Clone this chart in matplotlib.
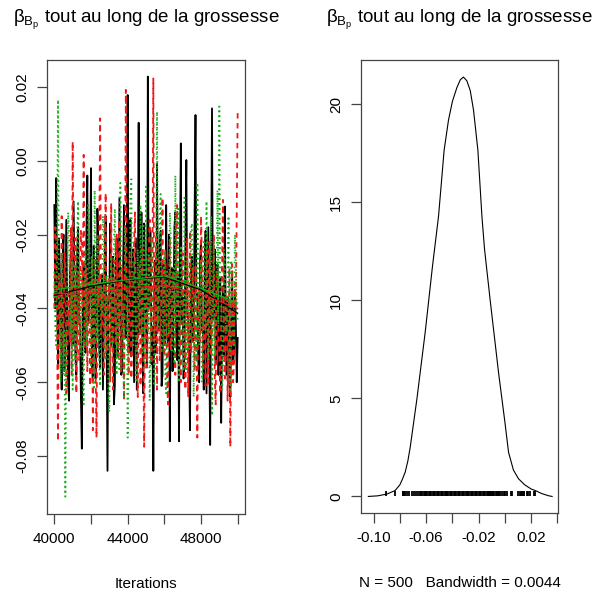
import numpy as np
import matplotlib
matplotlib.use("Agg")
import matplotlib.pyplot as plt

plt.rcParams['font.family'] = ['Liberation Sans', 'DejaVu Sans']
plt.rcParams['mathtext.fontset'] = 'custom'
plt.rcParams['mathtext.rm'] = 'Liberation Sans'
plt.rcParams['mathtext.it'] = 'Liberation Sans:italic'

# ---------------- data ----------------
iter_start = 40000
iter_step = 50

chain_black = [
    -0.012, -0.040, -0.0047, -0.033, -0.055, -0.021, -0.030, -0.050, -0.062, -0.027,
    -0.020, -0.057, -0.048, -0.016, -0.038, -0.060, -0.065, -0.031, -0.025, -0.046,
    -0.050, -0.011, -0.033, -0.053, -0.058, -0.024, -0.018, -0.042, -0.045, -0.064,
    -0.078, -0.035, -0.028, -0.049, -0.052, -0.019, -0.004, -0.044, -0.040, -0.028,
    -0.002, -0.055, -0.060, -0.023, -0.035, -0.059, -0.047, -0.013, -0.022, -0.051,
    -0.056, -0.034, -0.031, -0.062, -0.043, -0.026, -0.015, -0.048, -0.084, -0.037,
    -0.036, -0.017, -0.050, -0.041, -0.026, -0.066, -0.061, -0.029, -0.021, -0.053,
    -0.044, -0.010, -0.034, -0.058, -0.057, -0.030, -0.012, -0.045, -0.048, -0.024,
    0.0178, -0.052, -0.038, -0.016, -0.053, -0.035, -0.024, -0.060, -0.041, -0.021,
    -0.062, -0.039, 0.0103, -0.047, -0.035, -0.014, -0.049, -0.063, -0.017, -0.032,
    -0.044, -0.056, 0.0228, -0.040, -0.030, -0.019, -0.055, -0.045, -0.084, -0.036,
    -0.027, -0.052, -0.0007, -0.038, -0.046, -0.023, -0.019, -0.061, -0.058, -0.028,
    -0.033, -0.050, -0.012, -0.042, -0.050, -0.020, -0.076, -0.034, -0.029, -0.057,
    -0.040, -0.018, -0.014, -0.047, -0.054, -0.031, -0.076, -0.025, 0.0047, -0.044,
    -0.037, -0.059, -0.052, -0.022, 0.0002, -0.041, -0.043, -0.055, -0.073, -0.030,
    -0.026, -0.049, -0.048, -0.015, 0.0124, -0.038, -0.036, -0.054, -0.060, -0.027,
    -0.022, -0.046, -0.045, -0.062, -0.031, -0.019, -0.063, -0.040, -0.018, -0.051,
    -0.077, -0.033, 0.0142, -0.043, -0.040, -0.024, -0.055, -0.036, -0.028, -0.058,
    -0.050, -0.032, -0.071, -0.047, -0.034, -0.053, -0.0124, -0.045, -0.058, -0.037,
    -0.039, -0.061, -0.064, -0.042, -0.030, -0.055, -0.052, -0.035, -0.044, -0.060,
    -0.048,
]

chain_red = [
    -0.040, -0.018, -0.022, -0.047, -0.076, -0.031, -0.034, -0.055, -0.015, -0.042,
    -0.052, -0.025, -0.028, -0.063, -0.060, -0.036, -0.038, -0.049, -0.018, -0.058,
    0.0052, -0.034, -0.046, -0.021, -0.063, -0.044, -0.030, -0.054, -0.050, -0.019,
    -0.024, -0.040, 0.0016, -0.051, -0.042, -0.029, -0.057, -0.037, -0.033, -0.061,
    -0.048, -0.026, -0.073, -0.043, -0.026, -0.055, -0.075, -0.032, -0.039, -0.020,
    0.0115, -0.047, -0.044, -0.036, -0.058, -0.024, -0.0088, -0.052, -0.051, -0.038,
    -0.032, -0.060, -0.0115, -0.045, -0.062, -0.027, -0.037, -0.050, -0.020, -0.041,
    -0.054, -0.016, -0.041, -0.057, -0.029, -0.046, -0.065, -0.033, 0.0192, -0.039,
    -0.045, -0.058, -0.025, -0.035, -0.059, -0.048, -0.034, -0.022, -0.014, -0.044,
    -0.049, -0.064, -0.036, -0.028, -0.061, -0.042, -0.023, -0.053, -0.0775, -0.038,
    -0.030, -0.056, -0.047, -0.025, -0.016, -0.043, -0.055, -0.031, 0.0223, -0.049,
    -0.040, -0.020, -0.062, -0.037, -0.027, -0.054, -0.044, -0.033, -0.010, -0.046,
    -0.053, -0.024, -0.035, -0.059, -0.066, -0.040, -0.021, -0.051, -0.048, -0.030,
    -0.031, -0.045, -0.058, -0.018, -0.012, -0.039, -0.042, -0.056, -0.060, -0.034,
    -0.025, -0.047, -0.046, -0.062, -0.033, -0.021, -0.064, -0.041, -0.019, -0.052,
    -0.050, -0.029, -0.038, -0.057, -0.028, -0.043, -0.075, -0.036, -0.035, -0.049,
    -0.015, -0.026, -0.056, -0.044, -0.041, -0.061, -0.024, -0.035, -0.061, -0.022,
    -0.037, -0.053, -0.048, -0.039, -0.020, -0.058, -0.066, -0.030, -0.032, -0.047,
    -0.052, -0.063, -0.043, -0.027, -0.0106, -0.050, -0.059, -0.038, -0.036, -0.065,
    -0.047, -0.029, -0.0775, -0.044, -0.028, -0.060, -0.055, -0.033, -0.040, -0.014,
    0.0129,
]

chain_green = [
    -0.030, -0.045, -0.050, -0.022, 0.0165, -0.038, -0.042, -0.060, -0.025, -0.033,
    -0.058, -0.046, -0.091, -0.052, -0.035, -0.014, -0.020, -0.041, -0.047, -0.027,
    -0.062, -0.036, -0.028, -0.055, -0.040, -0.019, -0.011, -0.044, -0.053, -0.030,
    -0.033, -0.059, -0.066, -0.039, -0.024, -0.050, -0.045, -0.012, -0.016, -0.037,
    -0.056, -0.026, -0.037, -0.062, -0.008, -0.043, -0.049, -0.020, -0.029, -0.054,
    -0.061, -0.034, -0.041, -0.015, -0.019, -0.048, -0.054, -0.031, -0.032, -0.063,
    -0.068, -0.040, -0.026, -0.051, -0.046, -0.023, -0.013, -0.042, -0.058, -0.035,
    -0.036, -0.057, -0.006, -0.028, -0.043, -0.049, -0.064, -0.018, -0.022, -0.039,
    -0.075, -0.053, -0.031, -0.010, -0.005, -0.044, -0.050, -0.032, -0.027, -0.059,
    -0.060, -0.024, -0.039, -0.047, -0.012, -0.036, -0.052, -0.017, -0.030, -0.056,
    -0.007, -0.041, -0.046, -0.025, -0.065, -0.050, -0.021, -0.033, -0.041, -0.061,
    -0.055, -0.029, 0.0133, -0.045, -0.034, -0.016, -0.009, -0.052, -0.048, -0.038,
    -0.025, -0.058, -0.063, -0.030, -0.038, -0.047, -0.014, -0.021, -0.052, -0.040,
    -0.029, -0.055, -0.004, -0.035, -0.044, -0.013, -0.060, -0.048, -0.023, -0.031,
    -0.040, -0.057, -0.010, -0.043, -0.057, -0.026, -0.033, -0.051, -0.048, -0.019,
    -0.017, -0.037, -0.064, -0.044, -0.036, -0.054, -0.006, -0.028, -0.050, -0.041,
    -0.027, -0.060, -0.058, -0.022, -0.039, -0.046, -0.011, -0.033, -0.054, -0.049,
    -0.031, -0.015, -0.069, -0.038, -0.022, -0.053, -0.044, -0.030, -0.008, -0.045,
    0.0147, -0.034, -0.037, -0.062, -0.056, -0.024, -0.026, -0.047, -0.045, -0.039,
    -0.015, -0.056, -0.062, -0.027, -0.034, -0.048, -0.050, -0.020, -0.029, -0.041,
    -0.043,
]

smooth_iter = [40000, 42000, 44000, 46000, 48000, 50000]
smooth_black = [-0.0365, -0.0340, -0.0322, -0.0315, -0.0350, -0.0413]
smooth_red = [-0.0360, -0.0358, -0.0345, -0.0338, -0.0362, -0.0400]
smooth_green = [-0.0350, -0.0335, -0.0322, -0.0312, -0.0345, -0.0385]

dens_x = [-0.1041, -0.097, -0.090, -0.0837, -0.080, -0.078, -0.076, -0.074,
          -0.0722, -0.0671, -0.0608, -0.0552, -0.0506, -0.0463, -0.043, -0.0400,
          -0.0366, -0.0340, -0.0316, -0.0290, -0.0264, -0.0239, -0.0206, -0.0175,
          -0.0155, -0.0112, -0.0048, 0.0000, 0.0028, 0.0065, 0.0104, 0.0150,
          0.0200, 0.0232, 0.0280, 0.0330, 0.0360]
dens_y = [0.0, 0.03, 0.12, 0.30, 0.60, 0.90, 1.24, 1.80,
          2.50, 4.96, 8.35, 11.74, 14.28, 17.67, 19.19, 20.15,
          20.85, 21.25, 21.39, 21.20, 20.70, 19.70, 17.67, 14.28,
          12.60, 10.00, 6.30, 3.80, 2.25, 1.35, 0.90, 0.60,
          0.38, 0.30, 0.15, 0.04, 0.0]

title_txt = r"β$_{\mathrm{B}_{\mathrm{p}}}$ tout au long de la grossesse"
n_text = "N = 500   Bandwidth = 0.0044"

# ---------------- figure ----------------
W, H = 593, 594
fig = plt.figure(figsize=(W / 100, H / 100), dpi=100)

def px_axes(x0, x1, y0, y1):
    return fig.add_axes([x0 / W, (H - y1) / H, (x1 - x0) / W, (y1 - y0) / H])

frame_col = '#444444'
red_col = '#F01818'
green_col = '#18B018'

def style(ax):
    for s in ax.spines.values():
        s.set_color(frame_col)
        s.set_linewidth(0.9)
    ax.tick_params(direction='out', length=7, width=0.9, color=frame_col,
                   labelsize=11, pad=6)
    ax.tick_params(axis='y', labelrotation=90)
    for lab in ax.get_yticklabels():
        lab.set_va('center')

# Left: trace plot
ax1 = px_axes(47, 245, 60, 514)
chains = [chain_black, chain_red, chain_green]
cols = ['black', red_col, green_col]
dashes = [None, (3, 2.5), (0.9, 1.8)]
for ch, c, d in zip(chains, cols, dashes):
    it = iter_start + iter_step * np.arange(len(ch))
    ln, = ax1.plot(it, ch, color=c, lw=1.3)
    if d is not None:
        ln.set_dashes(d)
for sm, c in zip([smooth_black, smooth_red, smooth_green], cols):
    ax1.plot(smooth_iter, sm, color=c, lw=0.9)
ax1.set_xlim(39600, 50400)
ax1.set_ylim(-0.0957, 0.0273)
ax1.set_xticks([40000, 42000, 44000, 46000, 48000, 50000])
ax1.set_xticklabels(['40000', '', '44000', '', '48000', ''])
ax1.set_yticks([-0.08, -0.06, -0.04, -0.02, 0.00, 0.02])
ax1.set_yticklabels(['-0.08', '-0.06', '-0.04', '-0.02', '0.00', '0.02'])
style(ax1)
ax1.set_xlabel('Iterations', fontsize=11, labelpad=22)
fig.text(146 / W, 1 - 20 / H, title_txt, fontsize=13.5, ha='center', va='center')

# Right: density
ax2 = px_axes(361, 558, 60, 513.3)
ax2.plot(dens_x, dens_y, color='black', lw=0.8)
all_samples = np.unique(np.concatenate([chain_black, chain_red, chain_green]))
ax2.vlines(all_samples, 0, max(dens_y) / 100 * 1.3, color='black', lw=1.3)
ax2.set_xlim(-0.1097, 0.0405)
ax2.set_ylim(-0.86, 22.26)
ax2.set_xticks([-0.10, -0.08, -0.06, -0.04, -0.02, 0.00, 0.02, 0.04])
ax2.set_xticklabels(['-0.10', '', '-0.06', '', '-0.02', '', '0.02', ''])
ax2.set_yticks([0, 5, 10, 15, 20])
ax2.set_yticklabels(['0', '5', '10', '15', '20'])
style(ax2)
ax2.set_xlabel(n_text, fontsize=11, labelpad=22)
fig.text(459.5 / W, 1 - 20 / H, title_txt, fontsize=13.5, ha='center', va='center')

fig.savefig('out.png', dpi=100)
